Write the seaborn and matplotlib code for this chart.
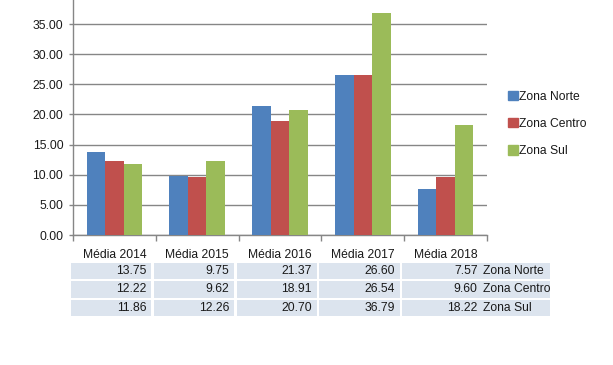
import pandas as pd
import matplotlib.pyplot as plt
import matplotlib.transforms as mtransforms
from matplotlib.patches import Rectangle
import seaborn as sns

categorias = ['Média 2014', 'Média 2015', 'Média 2016', 'Média 2017', 'Média 2018']
zonas = ['Zona Norte', 'Zona Centro', 'Zona Sul']
norte = [13.75, 9.75, 21.37, 26.60, 7.57]
centro = [12.22, 9.62, 18.91, 26.54, 9.60]
sul = [11.86, 12.26, 20.70, 36.79, 18.22]
cores = ['#4F81BD', '#C0504D', '#9BBB59']

valores = [norte, centro, sul]
rows = []
for z, vals in zip(zonas, valores):
    for c, v in zip(categorias, vals):
        rows.append({'ano': c, 'zona': z, 'valor': v})
df = pd.DataFrame(rows)

sns.set_style('white')
plt.rcParams['font.family'] = ['Liberation Sans', 'DejaVu Sans']
txt = '#1a1a1a'

fig = plt.figure(figsize=(6.13, 3.65), dpi=100)
ax = fig.add_axes([73 / 613, 1 - 235 / 365, (487 - 73) / 613, 235 / 365])

sns.barplot(data=df, x='ano', y='valor', hue='zona', palette=cores,
            width=0.67, gap=0, saturation=1, linewidth=0, ax=ax, zorder=3)

ax.set_ylim(0, 39)
ax.set_xlim(-0.5, 4.5)
ax.set_yticks([0, 5, 10, 15, 20, 25, 30, 35])
ax.set_yticklabels(['%.2f' % t for t in ax.get_yticks()], fontsize=8.7, color=txt)
ax.yaxis.grid(True, color='#868686', lw=1, zorder=0)
ax.set_xlabel('')
ax.set_ylabel('')
ax.set_xticks(range(5))
ax.set_xticklabels(categorias, fontsize=8.7, color=txt)
ax.set_xticks([-0.5, 0.5, 1.5, 2.5, 3.5, 4.5], minor=True)
ax.tick_params(axis='x', which='major', length=0, pad=10)
ax.tick_params(axis='x', which='minor', length=4, color='#868686', width=1, bottom=True)
ax.tick_params(axis='y', length=3, color='#868686', width=1, left=True, pad=4)
for s in ['top', 'right']:
    ax.spines[s].set_visible(False)
for s in ['left', 'bottom']:
    ax.spines[s].set_color('#868686')
    ax.spines[s].set_linewidth(1)

ax.legend_.remove()
handles = [Rectangle((0, 0), 1, 1, color=c) for c in cores]
fig.legend(handles, zonas, loc='center left', bbox_to_anchor=(497 / 613, 1 - 124 / 365),
           frameon=False, fontsize=8.7, handlelength=0.8, handleheight=0.8,
           handletextpad=0.15, labelspacing=1.25, labelcolor=txt)

# tabela de dados por baixo do grafico
trans = mtransforms.blended_transform_factory(ax.transData, ax.transAxes)
row_h = 18.3 / 235
top0 = -(262 - 235) / 235
fundo = '#dce4ee'
for r, (z, vals) in enumerate(zip(zonas, valores)):
    y0 = top0 - (r + 1) * row_h
    yc = y0 + row_h / 2
    for i, v in enumerate(vals):
        left = i - 0.524
        ax.add_patch(Rectangle((left, y0 + 0.004), 0.97, row_h - 0.008, transform=trans,
                               facecolor=fundo, edgecolor='none', clip_on=False))
        ax.text(left + 0.91, yc, '%.2f' % v, transform=trans, ha='right', va='center',
                fontsize=8.7, color=txt, clip_on=False)
    ax.add_patch(Rectangle((4.42, y0 + 0.004), 0.84, row_h - 0.008, transform=trans,
                           facecolor=fundo, edgecolor='none', clip_on=False))
    ax.text(4.45, yc, z, transform=trans, ha='left', va='center',
            fontsize=8.7, color=txt, clip_on=False)

fig.savefig('out.png', dpi=100)
